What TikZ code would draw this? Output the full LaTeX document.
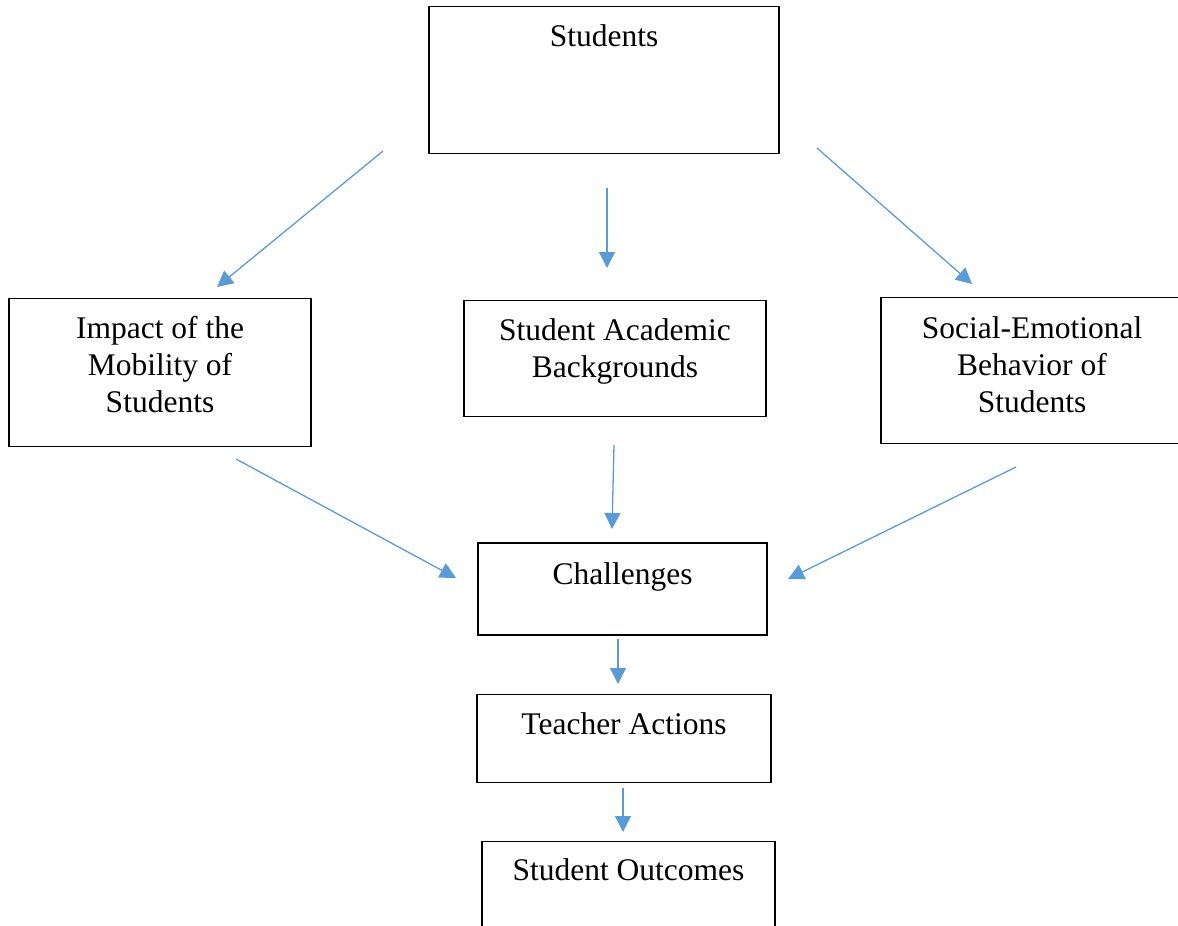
\documentclass[tikz,border=0pt]{standalone}
\usepackage{fontspec}
\setmainfont{Liberation Serif}
\usepackage{xcolor}
\usetikzlibrary{arrows.meta}
\definecolor{arrowblue}{HTML}{5B9BD5}

\begin{document}
\begin{tikzpicture}[x=1pt,y=-1pt,
            box/.style={draw,line width=1.2pt,inner sep=0pt,anchor=north,align=center,font=\fontsize{31.5}{37}\selectfont},
            arr/.style={arrowblue,line width=1.3pt,-{Triangle[length=16pt,width=16pt]}}]
            \useasboundingbox (0,0) rectangle (1178,926);

            \node (stud) at (604,6) [box,minimum width=350pt,text height=40pt,text depth=107pt] {Students};
            \node (impact) at (160,298) [box,minimum width=302pt,text height=114pt,text depth=34pt] {Impact of the\\Mobility of\\Students};
            \node (acad) at (615,300) [box,minimum width=302pt,text height=77pt,text depth=39pt] {Student Academic\\Backgrounds};
            \node (social) at (1032,297) [box,minimum width=302pt,text height=115pt,text depth=31pt] {Social-Emotional\\Behavior of\\Students};
            \node (chall) at (622.5,542) [box,line width=2pt,minimum width=289pt,text height=41pt,text depth=51pt] {Challenges};
            \node (teach) at (624,694) [box,minimum width=294pt,text height=40pt,text depth=48pt] {Teacher Actions};
            \node (outc) at (628.5,841) [box,minimum width=293pt,text height=39pt,text depth=200pt] {Student Outcomes};

            \coordinate (a1) at (383,151); \coordinate (b1) at (217,287);
            \coordinate (a2) at (607,188); \coordinate (b2) at (607,268);
            \coordinate (a3) at (817,148); \coordinate (b3) at (972,284);
            \coordinate (a4) at (236,459); \coordinate (b4) at (456,578);
            \coordinate (a5) at (614,445); \coordinate (b5) at (612,529);
            \coordinate (a6) at (1016,467); \coordinate (b6) at (788,579);
            \coordinate (a7) at (618,639); \coordinate (b7) at (618,684);
            \coordinate (a8) at (623,788); \coordinate (b8) at (623,832);

            \draw[arr] (a1) -- (b1);
            \draw[arr] (a2) -- (b2);
            \draw[arr] (a3) -- (b3);
            \draw[arr] (a4) -- (b4);
            \draw[arr] (a5) -- (b5);
            \draw[arr] (a6) -- (b6);
            \draw[arr] (a7) -- (b7);
            \draw[arr] (a8) -- (b8);

        \end{tikzpicture}
\end{document}
